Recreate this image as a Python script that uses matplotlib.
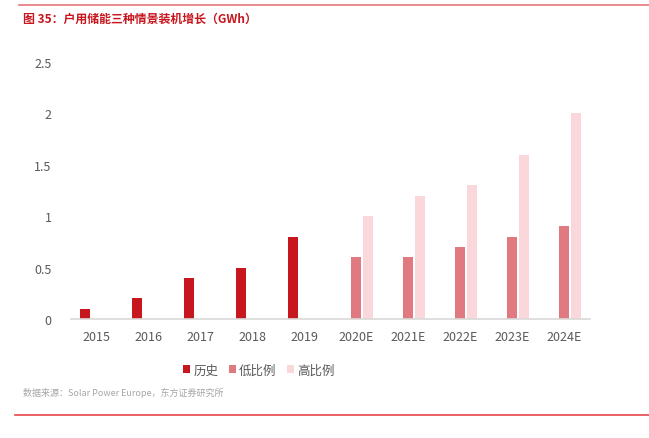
import matplotlib
matplotlib.use('Agg')
import matplotlib.pyplot as plt
import numpy as np

plt.rcParams['font.family'] = ['Noto Sans CJK SC', 'DejaVu Sans']

# data
years = ['2015', '2016', '2017', '2018', '2019',
         '2020E', '2021E', '2022E', '2023E', '2024E']
hist = [0.1, 0.2, 0.4, 0.5, 0.8, 0, 0, 0, 0, 0]
low = [0, 0, 0, 0, 0, 0.6, 0.6, 0.7, 0.8, 0.9]
high = [0, 0, 0, 0, 0, 1.0, 1.2, 1.3, 1.6, 2.0]
yticks = [0, 0.5, 1, 1.5, 2, 2.5]
ytick_labels = ['0', '0.5', '1', '1.5', '2', '2.5']

fig = plt.figure(figsize=(6.49, 4.39), dpi=100)
ax = fig.add_axes([0.1094, 0.271, 0.7996, 0.5855])

x = np.arange(len(years))
w = 0.19
off = 0.23
ax.bar(x - off, hist, w, color='#C8161E', label='历史')
ax.bar(x, low, w, color='#E07A80', label='低比例')
ax.bar(x + off, high, w, color='#FAD7DA', label='高比例')

ax.set_xlim(-0.5, len(years) - 0.5)
ax.set_ylim(0, 2.5)
ax.set_yticks(yticks)
ax.set_yticklabels(ytick_labels)
ax.set_xticks(x)
ax.set_xticklabels(years)
for s in ['top', 'right', 'left']:
    ax.spines[s].set_visible(False)
ax.spines['bottom'].set_color('#D9D9D9')
ax.spines['bottom'].set_linewidth(1.2)
ax.tick_params(axis='both', length=0, labelsize=9, labelcolor='#595959')
ax.tick_params(axis='y', pad=14)
ax.tick_params(axis='x', pad=8)

ax.legend(loc='upper center', bbox_to_anchor=(0.362, -0.13), ncol=3, frameon=False,
          fontsize=9, labelcolor='#595959', handlelength=0.6, handleheight=0.6,
          handletextpad=0.25, columnspacing=0.8)

# title, source and rules
fig.text(0.036, 0.957, '图 35：户用储能三种情景装机增长（GWh）', color='#C8161E',
         fontsize=8.6, fontweight='bold', va='center', ha='left')
fig.add_artist(plt.Line2D([0.03, 1.0], [0.986, 0.986], color='#E8767A', lw=1.2))
fig.text(0.035, 0.105, '数据来源：Solar Power Europe，东方证券研究所', color='#A6A6A6',
         fontsize=6.5, va='center', ha='left')
fig.add_artist(plt.Line2D([0.023, 1.0], [0.052, 0.052], color='#E8454A', lw=1.2))

fig.savefig('out.png', dpi=100)
